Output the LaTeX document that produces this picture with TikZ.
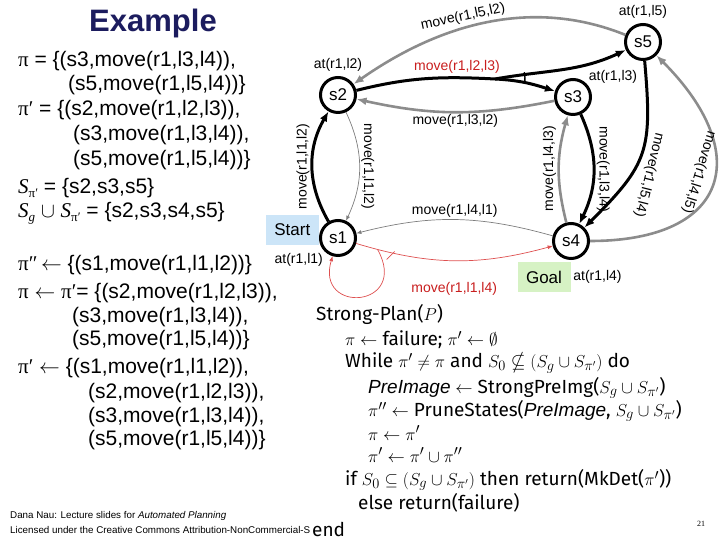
\documentclass[tikz,border=0pt]{standalone}
\usepackage{amsmath,amssymb}
\usepackage{fontspec}
\setmainfont{Liberation Sans}
\newfontfamily\serifpi{Liberation Serif}
\newfontfamily\algfont{Fira Sans}
\usetikzlibrary{arrows.meta, positioning}
\definecolor{titleblue}{RGB}{28,28,94}
\definecolor{edgegray}{RGB}{140,140,140}
\definecolor{thingray}{RGB}{125,125,125}
\definecolor{actred}{RGB}{222,80,80}
\definecolor{labelred}{RGB}{200,30,30}
\definecolor{startblue}{RGB}{204,229,248}
\definecolor{goalgreen}{RGB}{214,242,196}
\newcommand{\gpi}{{\serifpi π}}
\newcommand{\Spi}{{\serifpi\itshape S}\raisebox{-4pt}{\fontsize{13}{13}\selectfont\serifpi π′}}
\newcommand{\Sg}{{\serifpi\itshape S}\raisebox{-4pt}{\fontsize{13}{13}\selectfont\serifpi\itshape g}}
\tikzset{
  heading/.style={font=\fontsize{31}{31}\selectfont\bfseries, text=titleblue},
  txt/.style={anchor=west, inner sep=0pt, font=\fontsize{21}{25}\selectfont},
  alg/.style={anchor=west, inner sep=0pt, font=\algfont\fontsize{19}{19}\selectfont},
  state/.style={circle, draw, line width=3pt, minimum size=35pt, inner sep=0pt, font=\fontsize{17}{17}\selectfont},
  tag/.style={font=\fontsize{14}{14}\selectfont, inner sep=1.5pt},
  flag/.style={minimum width=53pt, minimum height=30pt, inner sep=0pt, font=\fontsize{17}{17}\selectfont},
  act/.style={line width=3pt, -{Latex[length=10pt,width=8pt]}},
  grayact/.style={draw=edgegray, line width=2.6pt, -{Latex[length=10pt,width=8pt]}},
  thinact/.style={draw=thingray, line width=0.7pt, -{Latex[length=5pt,width=4pt]}},
  redact/.style={draw=actred, line width=0.7pt, -{Latex[length=5pt,width=4pt]}},
  foot/.style={anchor=west, inner sep=0pt, font=\fontsize{9.8}{9.8}\selectfont}
}
\begin{document}
\begin{tikzpicture}[x=1pt, y=1pt]
  \useasboundingbox (0,0) rectangle (720,540);
  \node[heading] (title) at (153,517) {Example};

  % policies on the left
  \node[txt] (p1) at (18,479) {\gpi\ = \{(s3,move(r1,l3,l4)),};
  \node[txt] (p2) at (68,455) {(s5,move(r1,l5,l4))\}};
  \node[txt] (p3) at (18,430) {{\serifpi π′} = \{(s2,move(r1,l2,l3)),};
  \node[txt] (p4) at (73,405) {(s3,move(r1,l3,l4)),};
  \node[txt] (p5) at (73,380) {(s5,move(r1,l5,l4))\}};
  \node[txt] (p6) at (18,352) {\Spi\ = \{s2,s3,s5\}};
  \node[txt] (p7) at (18,327) {\Sg\ $\cup$ \Spi\ = \{s2,s3,s4,s5\}};
  \node[txt] (p8) at (18,275) {{\serifpi π″}\,$\leftarrow$ \{(s1,move(r1,l1,l2))\}};
  \node[txt] (p9) at (18,247) {\gpi\ $\leftarrow$ {\serifpi π′}= \{(s2,move(r1,l2,l3)),};
  \node[txt] (p10) at (72,223) {(s3,move(r1,l3,l4)),};
  \node[txt] (p11) at (72,200) {(s5,move(r1,l5,l4))\}};
  \node[txt] (p12) at (18,172) {{\serifpi π′} $\leftarrow$ \{(s1,move(r1,l1,l2)),};
  \node[txt] (p13) at (88,147) {(s2,move(r1,l2,l3)),};
  \node[txt] (p14) at (88,123) {(s3,move(r1,l3,l4)),};
  \node[txt] (p15) at (88,100) {(s5,move(r1,l5,l4))\}};

  % states
  \node[state] (s2) at (338,445) {s2};
  \node[state] (s3) at (573,443) {s3};
  \node[state] (s5) at (643,498) {s5};
  \node[state] (s1) at (338,302) {s1};
  \node[state] (s4) at (571,299) {s4};
  \node[tag, above=3pt of s2] (a2) {at(r1,l2)};
  \node[tag, above=3pt of s5] (a5) {at(r1,l5)};
  \node[tag] (a3) at (613,463) {at(r1,l3)};
  \node[tag, below left=0pt and 0pt of s1] (a1) {at(r1,l1)};
  \node[flag, fill=startblue, left=0pt of s1, yshift=8pt] (start) {Start};
  \node[flag, fill=goalgreen] (goal) at (544,263) {Goal};
  \node[tag, right=1pt of goal] (a4) {at(r1,l4)};

  % actions
  \draw[act] (s1) to[bend left=30] node[tag, midway, rotate=90, anchor=south] {move(r1,l1,l2)} (s2);
  \draw[thinact] (s2) to[bend left=25] node[tag, midway, rotate=-90, anchor=south] {move(r1,l1,l2)} (s1);
  \coordinate (br) at (495,461);
  \draw[act] (s2) to[out=14, in=177] (br) to[out=-3, in=162] (s3);
  \draw[act] (br) to[out=10, in=205] (s5);
  \draw[line width=1.4pt] (br) ++(13:30pt) arc[start angle=13, end angle=-8, radius=30pt];
  \node[tag, text=labelred] (m23) at (457,473) {move(r1,l2,l3)};
  \draw[grayact] (s3) to[bend left=12] node[tag, below] {move(r1,l3,l2)} (s2);
  \draw[grayact] (s5) to[out=158, in=35, looseness=0.95] (s2);
  \node[tag, rotate=12] (m52) at (463,523) {move(r1,l5,l2)};
  \draw[act] (s3) to[bend left=25] node[tag, midway, rotate=-90, anchor=south] {move(r1,l3,l4)} (s4);
  \draw[grayact] (s4) to[bend left=15] node[tag, midway, rotate=90, anchor=south] {move(r1,l4,l3)} (s3);
  \draw[act] (s5) to[out=-85, in=45, looseness=1.3] (s4);
  \node[tag, rotate=-104] (m54) at (649,365) {move(r1,l5,l4)};
  \draw[grayact] (s4) to[out=0, in=-45, looseness=1.8] (s5);
  \node[tag, rotate=-107] (m45) at (699,368) {move(r1,l4,l5)};
  \draw[thinact] (s4) to[bend right=15] node[tag, above] {move(r1,l4,l1)} (s1);
  \draw[redact] (s1) to[bend right=16] coordinate[pos=0.1] (rb) node[tag, below=20pt, text=labelred] {move(r1,l1,l4)} (s4);
  \draw[redact] (rb) .. controls (410,232) and (315,225) .. (s1);
  \draw[draw=actred, line width=0.7pt] (rb) ++(9,-10) -- ++(8,8);

  % footer
  \node[foot] (f1) at (10,24) {Dana Nau: Lecture slides for \textit{Automated Planning}};
  \node[foot] (f2) at (10,10) {Licensed under the Creative Commons Attribution-NonCommercial-S};
  \node[font=\fontsize{8}{8}\selectfont\serifpi] (pg) at (701,16) {21};

  % algorithm
  \node[alg] (alg1) at (316,225) {Strong-Plan($P$)};
  \node[alg] (alg2) at (345,200) {$\pi\leftarrow$ failure; $\pi'\leftarrow\emptyset$};
  \node[alg] (alg3) at (345,177) {While $\pi'\neq\pi$ and $S_0\nsubseteq(S_g\cup S_{\pi'})$ do};
  \node[alg] (alg4) at (368,152) {$\mathit{PreImage}\leftarrow$ StrongPreImg($S_g\cup S_{\pi'}$)};
  \node[alg] (alg5) at (368,129) {$\pi''\leftarrow$ PruneStates($\mathit{PreImage}$, $S_g\cup S_{\pi'}$)};
  \node[alg] (alg6) at (368,107) {$\pi\leftarrow\pi'$};
  \node[alg] (alg7) at (368,85) {$\pi'\leftarrow\pi'\cup\pi''$};
  \node[alg] (alg8) at (345,60) {if $S_0\subseteq(S_g\cup S_{\pi'})$ then return(MkDet($\pi'$))};
  \node[alg] (alg9) at (358,37) {else return(failure)};
  \node[alg, fill=white, inner sep=1pt] (alg10) at (311,11) {end};
\end{tikzpicture}
\end{document}
